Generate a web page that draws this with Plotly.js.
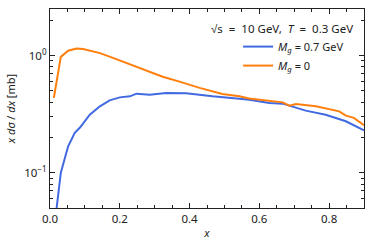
<!DOCTYPE html>
<html><head><meta charset="utf-8">
<script src="https://cdn.plot.ly/plotly-3.0.1.min.js"></script>
<style>html,body{margin:0;padding:0;background:#fff}#c{width:374px;height:249px}</style>
</head><body><div id="c"></div>
<script>
const xMg0 = [0.011,0.031,0.052,0.076,0.095,0.143,0.171,0.2,0.214,0.267,0.323,0.371,0.429,0.494,0.543,0.571,0.6,0.667,0.686,0.705,0.762,0.81,0.829,0.848,0.871,0.9];
const yMg0 = [0.435,0.975,1.10,1.148,1.14,1.05,0.98,0.91,0.88,0.76,0.66,0.60,0.53,0.47,0.449,0.43,0.42,0.399,0.374,0.386,0.369,0.345,0.334,0.307,0.294,0.255];
const xMg07 = [0.015,0.019,0.031,0.052,0.071,0.086,0.114,0.143,0.171,0.2,0.229,0.248,0.286,0.333,0.39,0.466,0.543,0.571,0.629,0.667,0.733,0.79,0.848,0.9];
const yMg07 = [0.035,0.05,0.1,0.168,0.219,0.243,0.313,0.369,0.415,0.44,0.449,0.473,0.464,0.48,0.477,0.449,0.429,0.42,0.394,0.389,0.339,0.313,0.275,0.23];
const yMajorVals = [0.1, 1];
const yMajorText = ['10<sup>−1</sup>', '10<sup>0</sup>'];
const yMinorVals = [0.05,0.06,0.07,0.08,0.09,0.2,0.3,0.4,0.5,0.6,0.7,0.8,0.9,2];
const xTickVals = [0,0.2,0.4,0.6,0.8];
const xTickText = ['0.0','0.2','0.4','0.6','0.8'];
const legendTitle = '√s\u00a0\u00a0=\u00a0\u00a010 GeV,\u00a0\u00a0<i>T</i>\u00a0\u00a0=\u00a0\u00a00.3 GeV';

const tickFont = {family: 'Noto Sans, sans-serif', size: 11.5, color: '#222'};
const font = {family: 'Noto Sans, sans-serif', size: 11, color: '#222'};
const data = [
  {x: xMg07, y: yMg07, mode: 'lines', name: '<i>M<sub>g</sub></i> = 0.7 GeV', line: {color: '#4169e1', width: 2}},
  {x: xMg0, y: yMg0, mode: 'lines', name: '<i>M<sub>g</sub></i> = 0', line: {color: '#ff7f0e', width: 2}}
];
const axCommon = {showline: true, linecolor: '#222', linewidth: 1.2, mirror: 'allticks', ticks: 'inside', ticklen: 5, tickwidth: 1, tickcolor: '#222', showgrid: false, zeroline: false, tickfont: tickFont};
const layout = {
  width: 374, height: 249,
  margin: {l: 50, r: 10, t: 9, b: 41},
  paper_bgcolor: '#fff', plot_bgcolor: '#fff',
  font: font,
  showlegend: true,
  legend: {x: 0.599, y: 0.884, xanchor: 'left', yanchor: 'top', bgcolor: 'rgba(0,0,0,0)', font: font, tracegroupgap: 0, itemwidth: 30},
  annotations: [{xref: 'paper', yref: 'paper', x: 0.971, y: 0.9, xanchor: 'right', yanchor: 'middle', text: legendTitle, showarrow: false, font: {family: 'Noto Sans, sans-serif', size: 11.5, color: '#222'}}],
  xaxis: Object.assign({}, axCommon, {range: [0, 0.9], tickmode: 'array', tickvals: xTickVals, ticktext: xTickText,
    minor: {dtick: 0.05, tick0: 0, ticklen: 3, ticks: 'inside', tickcolor: '#222', showgrid: false},
    title: {text: '<i>x</i>', font: font, standoff: 4}}),
  yaxis: Object.assign({}, axCommon, {type: 'log', range: [Math.log10(0.05), Math.log10(2.5)], tickmode: 'array', tickvals: yMajorVals, ticktext: yMajorText,
    minor: {tickmode: 'array', tickvals: yMinorVals, ticklen: 3, ticks: 'inside', tickcolor: '#222', showgrid: false},
    title: {text: '<i>x dσ</i> / <i>dx</i> [mb]', font: font, standoff: 6}})
};
Plotly.newPlot('c', data, layout, {displayModeBar: false, staticPlot: true});
</script></body></html>
